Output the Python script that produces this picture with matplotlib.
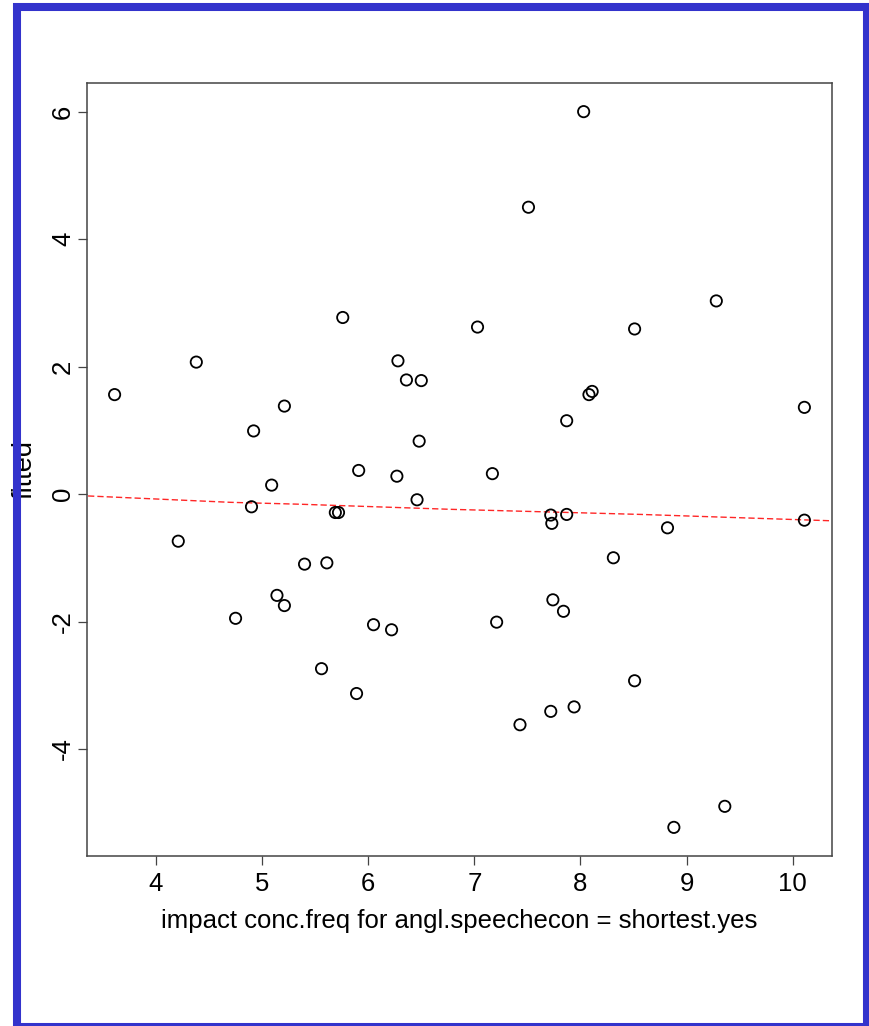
import numpy as np
import matplotlib.pyplot as plt
from matplotlib.patches import Rectangle

plt.rcParams['font.family'] = ['Liberation Sans', 'DejaVu Sans']
plt.rcParams['axes.unicode_minus'] = False

# impact values (x) and fitted values (y)
impact = [3.61, 4.38, 4.21, 4.75, 4.92, 4.90, 5.09, 5.14, 5.21, 5.21,
          5.40, 5.61, 5.56, 5.69, 5.72, 5.76, 5.91, 5.89, 6.05, 6.22,
          6.27, 6.28, 6.36, 6.50, 6.48, 6.46, 7.03, 7.17, 7.21, 7.51,
          7.43, 7.72, 7.73, 7.74, 7.72, 7.84, 7.87, 7.87, 7.94, 8.03,
          8.08, 8.11, 8.31, 8.51, 8.51, 8.82, 8.88, 9.28, 9.36, 10.11,
          10.11]
fitted = [1.56, 2.07, -0.74, -1.95, 0.99, -0.20, 0.14, -1.59, 1.38, -1.75,
          -1.10, -1.08, -2.74, -0.29, -0.29, 2.77, 0.37, -3.13, -2.05, -2.13,
          0.28, 2.09, 1.79, 1.78, 0.83, -0.09, 2.62, 0.32, -2.01, 4.50,
          -3.62, -0.33, -0.46, -1.66, -3.41, -1.84, 1.15, -0.32, -3.34, 6.00,
          1.56, 1.61, -1.00, 2.59, -2.93, -0.53, -5.23, 3.03, -4.90, 1.36,
          -0.41]

# smoother line (red dashed)
smooth_x = [3.36, 4.70, 5.36, 6.78, 8.57, 10.37]
smooth_y = [-0.03, -0.13, -0.16, -0.24, -0.32, -0.42]

xticks = [4, 5, 6, 7, 8, 9, 10]
yticks = [-4, -2, 0, 2, 4, 6]

fig = plt.figure(figsize=(8.7, 10.26), dpi=100)
ax = fig.add_axes([0.1, 0.1657, 0.8563, 0.7534])

ax.scatter(impact, fitted, s=66, facecolors='none', edgecolors='black', linewidths=1.3, zorder=3)
ax.plot(smooth_x, smooth_y, color='red', alpha=0.85, lw=1.0, dashes=(4.5, 2.2), zorder=2)

# R style 4% padding
xr = max(impact) - min(impact)
yr = max(fitted) - min(fitted)
ax.set_xlim(min(impact) - 0.04 * xr, max(impact) + 0.04 * xr)
ax.set_ylim(min(fitted) - 0.04 * yr, max(fitted) + 0.04 * yr)

ax.set_xticks(xticks)
ax.set_yticks(yticks)
ax.tick_params(direction='out', length=6.5, width=0.9, color='#444444', labelsize=18.5)
ax.tick_params(axis='x', pad=5.0)
ax.tick_params(axis='y', pad=2.0, labelrotation=90)
for lab in ax.get_yticklabels():
    lab.set_verticalalignment('center')
for sp in ax.spines.values():
    sp.set_color('#444444')
    sp.set_linewidth(1.1)

ax.set_xlabel('impact conc.freq for angl.speechecon = shortest.yes', fontsize=18.5)
ax.set_ylabel('fitted', fontsize=19.5)
ax.xaxis.set_label_coords(0.5, -0.068)
ax.yaxis.set_label_coords(-0.066, 0.5)

# blue frame around the whole figure
fig.add_artist(Rectangle((17 / 870, -1 / 1026), 850 / 870, 1020 / 1026,
                         transform=fig.transFigure, fill=False,
                         edgecolor='#3333cc', lw=5.8, zorder=10))

fig.savefig('out.png', dpi=100)
